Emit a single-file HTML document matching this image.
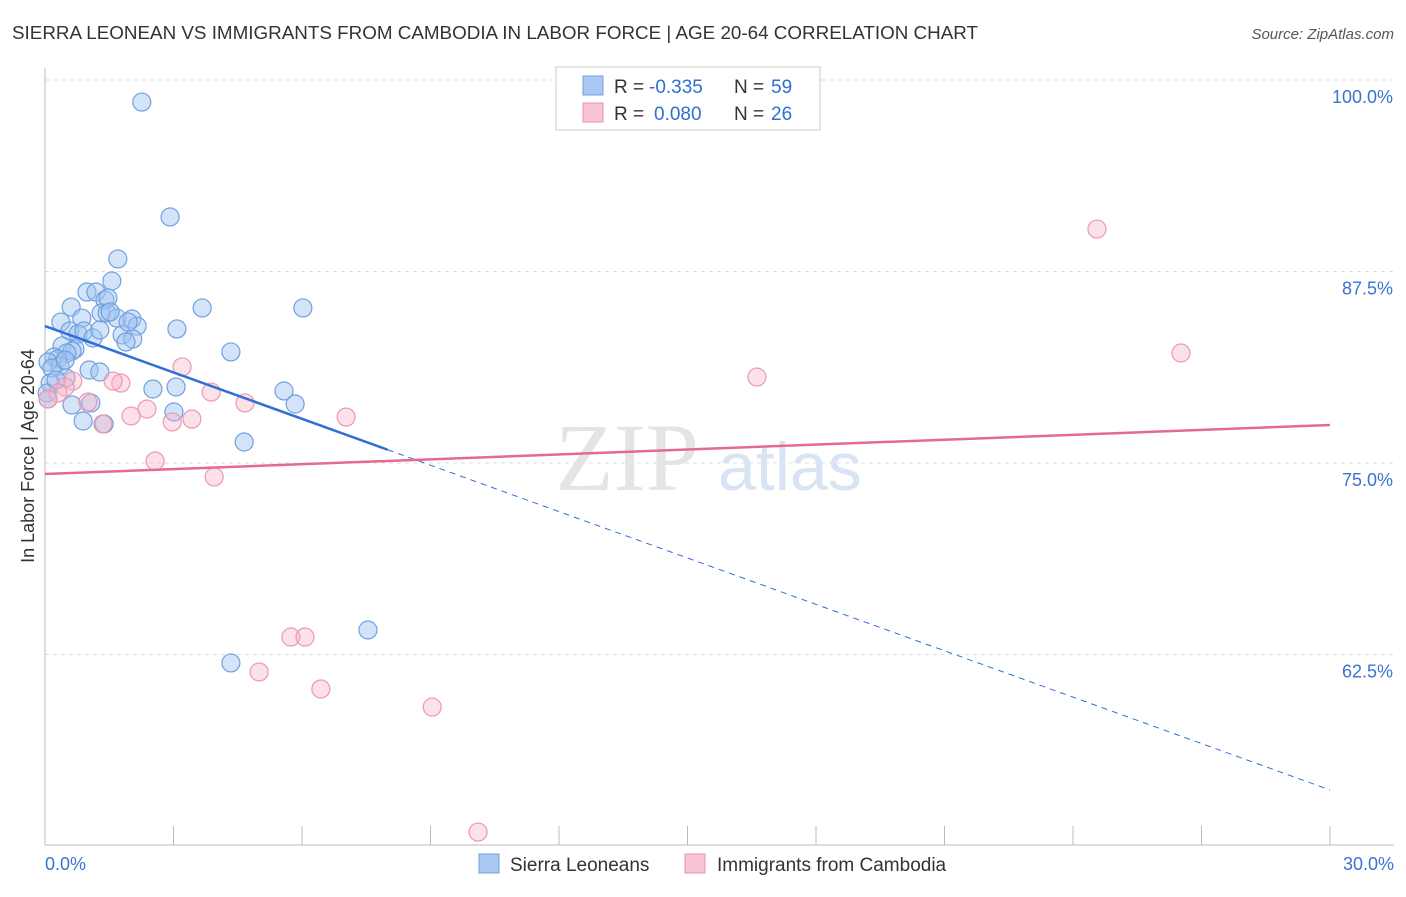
<!DOCTYPE html>
<html><head><meta charset="utf-8"><style>
body{margin:0;background:#fff;font-family:"Liberation Sans",sans-serif;}
</style></head><body>
<svg width="1406" height="892" xmlns="http://www.w3.org/2000/svg" font-family="Liberation Sans, sans-serif">
<text x="12" y="39" font-size="18" fill="#333" textLength="966" lengthAdjust="spacingAndGlyphs">SIERRA LEONEAN VS IMMIGRANTS FROM CAMBODIA IN LABOR FORCE | AGE 20-64 CORRELATION CHART</text>
<text x="1394" y="39" font-size="15" fill="#555" font-style="italic" text-anchor="end">Source: ZipAtlas.com</text>
<g id="grid"></g>
<text x="555" y="490" font-size="96" fill="#e4e4e4" font-family="Liberation Serif, serif">ZIP</text>
<text x="718" y="490" font-size="68" fill="#d8e4f4">atlas</text>
<g id="axes"></g>
<g id="pts"></g>
<g id="trends"></g>
<text transform="translate(34,456) rotate(-90)" font-size="18" fill="#333" text-anchor="middle">In Labor Force | Age 20-64</text>
<text x="45" y="870" font-size="18" fill="#3a74d0">0.0%</text>
<text x="1394" y="870" font-size="18" fill="#3a74d0" text-anchor="end">30.0%</text>
<g>
<rect x="556" y="67" width="264" height="63" fill="#fff" stroke="#ccc"/>
<rect x="583" y="76" width="20" height="19" fill="#a9c9f3" stroke="#6fa0e0"/>
<text x="614" y="93" font-size="19" fill="#333">R =</text>
<text x="649" y="93" font-size="19" fill="#2f6fd0">-0.335</text>
<text x="734" y="93" font-size="19" fill="#333">N =</text>
<text x="771" y="93" font-size="19" fill="#2f6fd0">59</text>
<rect x="583" y="103" width="20" height="19" fill="#f9c4d3" stroke="#e890aa"/>
<text x="614" y="120" font-size="19" fill="#333">R =</text>
<text x="654" y="120" font-size="19" fill="#2f6fd0">0.080</text>
<text x="734" y="120" font-size="19" fill="#333">N =</text>
<text x="771" y="120" font-size="19" fill="#2f6fd0">26</text>
</g>
<g>
<rect x="479" y="854" width="20" height="19" fill="#a9c9f3" stroke="#6fa0e0"/>
<text x="510" y="871" font-size="19" fill="#333">Sierra Leoneans</text>
<rect x="685" y="854" width="20" height="19" fill="#f9c4d3" stroke="#e890aa"/>
<text x="717" y="871" font-size="19" fill="#333">Immigrants from Cambodia</text>
</g>
</svg>
<script>
const blueX=[2.26,2.92,1.70,1.56,0.98,1.19,1.40,1.47,0.61,3.67,6.02,1.31,1.45,1.68,0.86,0.37,2.03,2.15,3.08,0.58,0.77,0.91,1.80,1.12,2.05,1.89,0.40,0.70,0.63,4.34,0.51,0.21,0.30,0.07,0.35,0.16,1.03,1.28,0.49,0.12,2.52,3.06,5.58,0.05,0.63,1.07,3.01,5.84,0.89,1.38,4.65,7.54,4.34,0.07,0.26,0.47,1.28,1.52,1.94];
const blueY=[98.56,91.06,88.32,86.88,86.16,86.16,85.64,85.77,85.18,85.12,85.12,84.79,84.79,84.46,84.46,84.20,84.40,83.94,83.75,83.62,83.42,83.62,83.36,83.16,83.09,82.90,82.64,82.44,82.31,82.25,82.18,81.92,81.79,81.59,81.33,81.20,81.07,80.94,80.55,80.22,79.83,79.96,79.70,79.57,78.79,78.92,78.33,78.85,77.74,77.55,76.37,64.10,61.95,79.18,80.42,81.72,83.68,84.86,84.20];
const pinkX=[24.56,26.52,16.62,3.20,1.77,1.59,0.65,0.47,0.30,3.88,0.07,4.67,2.38,1.00,2.01,2.97,3.43,7.03,1.35,2.57,3.95,5.74,6.07,5.00,6.44,9.04,10.11];
const pinkY=[90.27,82.18,80.61,81.27,80.22,80.35,80.35,79.96,79.57,79.63,79.18,78.92,78.52,78.98,78.07,77.68,77.87,78.00,77.55,75.13,74.09,63.64,63.64,61.36,60.25,59.07,50.91];
const yTicks=[100,87.5,75,62.5];
const yTickLabels=["100.0%","87.5%","75.0%","62.5%"];
const blueTrend=[83.94,53.66];
const blueSolidEnd=8;
const pinkTrend=[74.28,77.48];
const NS="http://www.w3.org/2000/svg";
const sx=v=>45+v*1285/30;
const sy=v=>463-(v-75)*15.32;
function mk(tag,attrs,parent){const e=document.createElementNS(NS,tag);for(const k in attrs)e.setAttribute(k,attrs[k]);parent.appendChild(e);return e;}
const grid=document.getElementById('grid');
yTicks.forEach((t,i)=>{
  const l=mk('line',{x1:45,x2:1394,y1:sy(t),y2:sy(t),stroke:'#ddd','stroke-dasharray':'4,4'},grid);
  
  
  const tx=mk('text',{x:1393,y:sy(t)+23,'font-size':18,fill:'#3a74d0','text-anchor':'end'},grid);
  tx.textContent=yTickLabels[i];
  
  
});
const axes=document.getElementById('axes');
mk('line',{x1:45,x2:45,y1:68,y2:845,stroke:'#bbb'},axes);
mk('line',{x1:45,x2:1394,y1:845,y2:845,stroke:'#bbb'},axes);
for(let i=0;i<=10;i++){const t=mk('line',{x1:sx(i*3),x2:sx(i*3),y1:826,y2:845,stroke:'#bbb'},axes);
  
  }
const pts=document.getElementById('pts');
blueX.forEach((x,i)=>{const c=mk('circle',{cx:sx(x),cy:sy(blueY[i]),r:9,fill:'rgba(160,196,240,0.45)',stroke:'#6fa0e0','stroke-width':1.2},pts);
  
  });
pinkX.forEach((x,i)=>{const c=mk('circle',{cx:sx(x),cy:sy(pinkY[i]),r:9,fill:'rgba(248,180,200,0.4)',stroke:'#eb98b2','stroke-width':1.2},pts);
  
  });
const tr=document.getElementById('trends');
const bAt=v=>blueTrend[0]+(blueTrend[1]-blueTrend[0])*v/30;
const l1=mk('line',{x1:sx(0),y1:sy(blueTrend[0]),x2:sx(blueSolidEnd),y2:sy(bAt(blueSolidEnd)),stroke:'#2f6fd6','stroke-width':2.5},tr);


const l2=mk('line',{x1:sx(blueSolidEnd),y1:sy(bAt(blueSolidEnd)),x2:sx(30),y2:sy(blueTrend[1]),stroke:'#2f6fd6','stroke-width':1,'stroke-dasharray':'6,5'},tr);


const l3=mk('line',{x1:sx(0),y1:sy(pinkTrend[0]),x2:sx(30),y2:sy(pinkTrend[1]),stroke:'#e46a93','stroke-width':2.5},tr);


</script>
</body></html>
